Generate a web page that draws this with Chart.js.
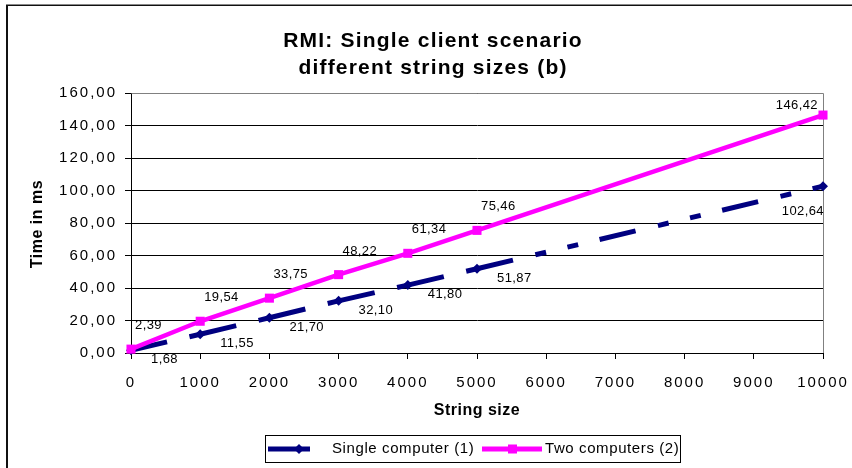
<!DOCTYPE html>
<html>
<head>
<meta charset="utf-8">
<script src="https://cdn.jsdelivr.net/npm/chart.js@4/dist/chart.umd.min.js"></script>
<style>
  html, body { margin: 0; padding: 0; background: #fff; }
  #wrap { width: 852px; height: 468px; position: relative; overflow: hidden; }
  canvas { display: block; }
</style>
</head>
<body>
<div id="wrap"><canvas id="chart" width="852" height="468"></canvas></div>
<script>
// Chart text
const titleLines = ['RMI: Single client scenario', 'different string sizes (b)'];
const xAxisTitle = 'String size';
const yAxisTitle = 'Time in ms';
const seriesNames = ['Single computer (1)', 'Two computers (2)'];

// Measurements (ms) per string size
const stringSizes = [0, 1000, 2000, 3000, 4000, 5000, 10000];
const singleComputer = [1.68, 11.55, 21.70, 32.10, 41.80, 51.87, 102.64];
const twoComputers = [2.39, 19.54, 33.75, 48.22, 61.34, 75.46, 146.42];

// Axis ticks
const xTicks = [0, 1000, 2000, 3000, 4000, 5000, 6000, 7000, 8000, 9000, 10000];
const yTicks = [0, 20, 40, 60, 80, 100, 120, 140, 160];

const FONT = '"Liberation Sans", Arial, Helvetica, sans-serif';
const NAVY = '#000080';
const MAGENTA = '#ff00ff';

const fmt = v => v.toFixed(2).replace('.', ',');

function toPoints(values) {
  return stringSizes.map((x, i) => ({ x: x, y: values[i] }));
}

function drawText(ctx, s, x, y, opts) {
  ctx.save();
  ctx.font = opts.font;
  ctx.fillStyle = opts.color || '#000';
  ctx.textAlign = opts.align || 'left';
  ctx.textBaseline = 'middle';
  if ('letterSpacing' in ctx) ctx.letterSpacing = (opts.spacing || 0) + 'px';
  if (opts.rotate) {
    ctx.translate(x, y);
    ctx.rotate(opts.rotate);
    ctx.fillText(s, 0, 0);
  } else {
    ctx.fillText(s, x, y);
  }
  ctx.restore();
}

// Where each series puts its value labels relative to the point
const labelPlacement = [
  { dx: 20, dy: 9.5, align: 'left', last: { dx: 1, dy: 25.5, align: 'right' } },
  { dx: 4, dy: -23.5, align: 'left', last: { dx: -5, dy: -10, align: 'right' } }
];

const framePlugin = {
  id: 'frame',
  beforeDraw(chart) {
    const ctx = chart.ctx;
    ctx.save();
    ctx.fillStyle = '#fff';
    ctx.fillRect(0, 0, chart.width, chart.height);
    // outer frame (left and top edges)
    ctx.fillStyle = '#888';
    ctx.fillRect(6, 4, chart.width - 6, 1);
    ctx.fillStyle = '#111';
    ctx.fillRect(6, 5, chart.width - 6, 1);
    ctx.fillRect(6, 5, 2, chart.height - 5);
    ctx.restore();
    // tick labels are drawn with wide spacing
    if ('letterSpacing' in ctx) ctx.letterSpacing = '2px';
  },
  beforeDatasetsDraw(chart) {
    const ctx = chart.ctx;
    const a = chart.chartArea;
    if ('letterSpacing' in ctx) ctx.letterSpacing = '0px';
    ctx.save();
    ctx.strokeStyle = '#808080';
    ctx.lineWidth = 1;
    ctx.beginPath();
    ctx.moveTo(Math.round(a.left) + 0.5, Math.round(a.top) + 0.5);
    ctx.lineTo(Math.round(a.right) + 0.5, Math.round(a.top) + 0.5);
    ctx.lineTo(Math.round(a.right) + 0.5, Math.round(a.bottom));
    ctx.stroke();
    ctx.restore();
  },
  afterDatasetsDraw(chart) {
    const ctx = chart.ctx;
    chart.data.datasets.forEach((ds, di) => {
      const meta = chart.getDatasetMeta(di);
      const place = labelPlacement[di];
      meta.data.forEach((pt, i) => {
        const p = (i === meta.data.length - 1) ? place.last : place;
        drawText(ctx, fmt(ds.data[i].y), pt.x + p.dx, pt.y + p.dy, {
          font: '13px ' + FONT, align: p.align, spacing: 0.4
        });
      });
    });
  },
  afterDraw(chart) {
    const ctx = chart.ctx;
    const a = chart.chartArea;
    // title
    drawText(ctx, titleLines[0], 433, 41, { font: 'bold 21px ' + FONT, align: 'center', spacing: 1.2 });
    drawText(ctx, titleLines[1], 433, 68, { font: 'bold 21px ' + FONT, align: 'center', spacing: 1.2 });
    // axis titles
    drawText(ctx, xAxisTitle, (a.left + a.right) / 2, 411, { font: 'bold 16px ' + FONT, align: 'center', spacing: 0.5 });
    drawText(ctx, yAxisTitle, 38, 224, { font: 'bold 16px ' + FONT, align: 'center', spacing: 0.5, rotate: -Math.PI / 2 });

    // legend
    ctx.save();
    if ('letterSpacing' in ctx) ctx.letterSpacing = '0px';
    ctx.strokeStyle = '#000';
    ctx.lineWidth = 1;
    ctx.strokeRect(265.5, 435.5, 415, 27);
    const ly = 449;
    const ds = chart.data.datasets;
    // sample 1
    ctx.strokeStyle = ds[0].borderColor;
    ctx.lineWidth = 5;
    ctx.beginPath(); ctx.moveTo(268, ly); ctx.lineTo(310, ly); ctx.stroke();
    ctx.fillStyle = ds[0].borderColor;
    ctx.beginPath();
    ctx.moveTo(299, ly - 5); ctx.lineTo(304, ly); ctx.lineTo(299, ly + 5); ctx.lineTo(294, ly);
    ctx.closePath(); ctx.fill();
    // sample 2
    ctx.strokeStyle = ds[1].borderColor;
    ctx.lineWidth = 5;
    ctx.beginPath(); ctx.moveTo(482, ly); ctx.lineTo(542, ly); ctx.stroke();
    ctx.fillStyle = ds[1].borderColor;
    ctx.fillRect(508, ly - 4.5, 9, 9);
    ctx.restore();
    drawText(ctx, seriesNames[0], 332, ly, { font: '15px ' + FONT, spacing: 0.6 });
    drawText(ctx, seriesNames[1], 545, ly, { font: '15px ' + FONT, spacing: 0.6 });
  }
};

const chart = new Chart(document.getElementById('chart'), {
  type: 'line',
  data: {
    datasets: [
      {
        label: seriesNames[0],
        data: toPoints(singleComputer),
        borderColor: NAVY,
        backgroundColor: NAVY,
        borderWidth: 5,
        borderCapStyle: 'butt',
        borderDash: [37, 23, 11, 22, 11, 22],
        // each segment restarts its dash pattern at the point
        segment: { borderDashOffset: c => c.p0DataIndex * 0.001 },
        pointStyle: 'rectRot',
        pointRadius: 5,
        pointBorderWidth: 0,
        tension: 0,
        clip: false,
        order: 1
      },
      {
        label: seriesNames[1],
        data: toPoints(twoComputers),
        borderColor: MAGENTA,
        backgroundColor: MAGENTA,
        borderWidth: 4.5,
        pointStyle: 'rect',
        pointRadius: 6.4,
        pointBorderWidth: 0,
        tension: 0,
        clip: false,
        order: 0
      }
    ]
  },
  options: {
    responsive: false,
    animation: false,
    devicePixelRatio: 1,
    layout: { padding: { left: 0, right: 29, top: 93, bottom: 75 } },
    plugins: {
      legend: { display: false },
      title: { display: false },
      tooltip: { enabled: false }
    },
    scales: {
      x: {
        type: 'linear',
        min: 0,
        max: 10000,
        afterBuildTicks: s => { s.ticks = xTicks.map(v => ({ value: v })); },
        afterFit: s => { s.height = 40; s.paddingLeft = 0; s.paddingRight = 0; },
        ticks: {
          color: '#000',
          font: { family: FONT, size: 15 },
          padding: 15,
          maxRotation: 0,
          autoSkip: false,
          callback: v => String(v)
        },
        grid: { drawOnChartArea: false, drawTicks: true, tickLength: 6, tickColor: '#000', tickWidth: 1 },
        border: { display: true, color: '#000', width: 1 }
      },
      y: {
        min: 0,
        max: 160,
        afterBuildTicks: s => { s.ticks = yTicks.map(v => ({ value: v })); },
        afterFit: s => { s.width = 131; s.paddingTop = 0; s.paddingBottom = 0; },
        ticks: {
          color: '#000',
          font: { family: FONT, size: 15 },
          padding: 8,
          autoSkip: false,
          callback: v => fmt(v)
        },
        grid: { color: '#000', lineWidth: 1, drawTicks: true, tickLength: 6, tickColor: '#000' },
        border: { display: true, color: '#000', width: 1 }
      }
    }
  },
  plugins: [framePlugin]
});
</script>
</body>
</html>
